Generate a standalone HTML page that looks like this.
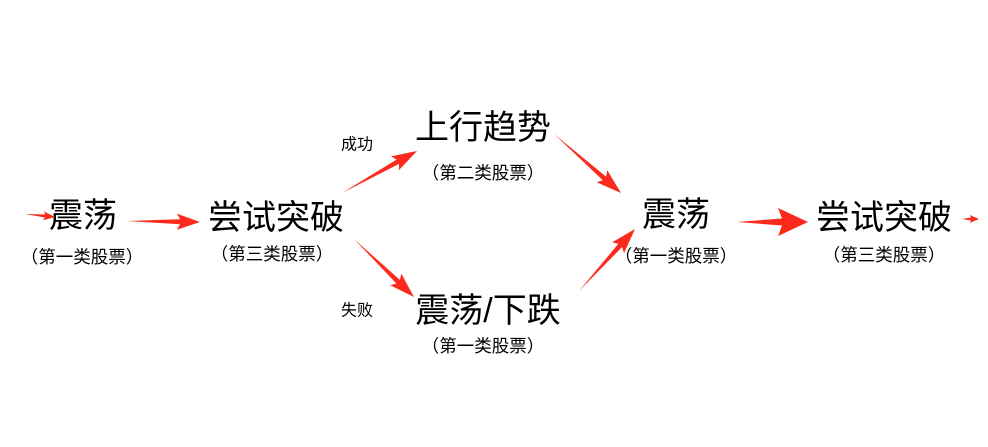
<!DOCTYPE html>
<html><head><meta charset="utf-8"><style>
html,body{margin:0;padding:0;background:#fff;width:988px;height:447px;overflow:hidden}
svg text{font-family:"Liberation Sans","Noto Sans CJK SC",sans-serif;fill:#000;text-anchor:middle;dominant-baseline:central}
.t{font-size:34px}.s{font-size:17.5px}.l{font-size:16px}
</style></head><body>
<svg id="s" width="988" height="447" viewBox="0 0 988 447">
<text class="t" x="83" y="216">震荡</text>
<text class="s" x="82" y="257">（第一类股票）</text>
<text class="t" x="276" y="218">尝试突破</text>
<text class="s" x="272" y="254">（第三类股票）</text>
<text class="t" x="483" y="128">上行趋势</text>
<text class="s" x="483" y="173">（第二类股票）</text>
<text class="t" x="488" y="311">震荡/下跌</text>
<text class="s" x="483" y="346">（第一类股票）</text>
<text class="l" x="357" y="145">成功</text>
<text class="l" x="357" y="311">失败</text>
<text class="t" x="676" y="215">震荡</text>
<text class="s" x="676" y="256">（第一类股票）</text>
<text class="t" x="884" y="218">尝试突破</text>
<text class="s" x="884" y="255">（第三类股票）</text>
</svg>
<script>
var arrows=[
[25,214,55,217,10,9,3],
[127,221,200,222,20,16,5],
[342,193,417,151,22,16,5],
[354,239,414,297,22,16,5],
[554,134,621,193,22,16,5],
[579,291,635,229,22,16,5],
[737,222,808,222,26,28,7],
[962,219,979,219,8,8,3]
];
var s=document.getElementById('s'),ns='http://www.w3.org/2000/svg';
arrows.forEach(function(a){
 var x1=a[0],y1=a[1],x2=a[2],y2=a[3],L=a[4],H=a[5],w=a[6];
 var dx=x2-x1,dy=y2-y1,len=Math.hypot(dx,dy),ux=dx/len,uy=dy/len,px=-uy,py=ux;
 var bx=x2-ux*L,by=y2-uy*L, bbx=x2-ux*L*1.15,bby=y2-uy*L*1.15;
 var pts=[[x1,y1],[bx+px*w/2,by+py*w/2],[bbx+px*H/2,bby+py*H/2],[x2,y2],[bbx-px*H/2,bby-py*H/2],[bx-px*w/2,by-py*w/2]];
 var p=document.createElementNS(ns,'polygon');
 p.setAttribute('points',pts.map(function(q){return q[0].toFixed(1)+','+q[1].toFixed(1)}).join(' '));
 p.setAttribute('fill','#fb2a1c');
 s.appendChild(p);
});
</script>
</body></html>
